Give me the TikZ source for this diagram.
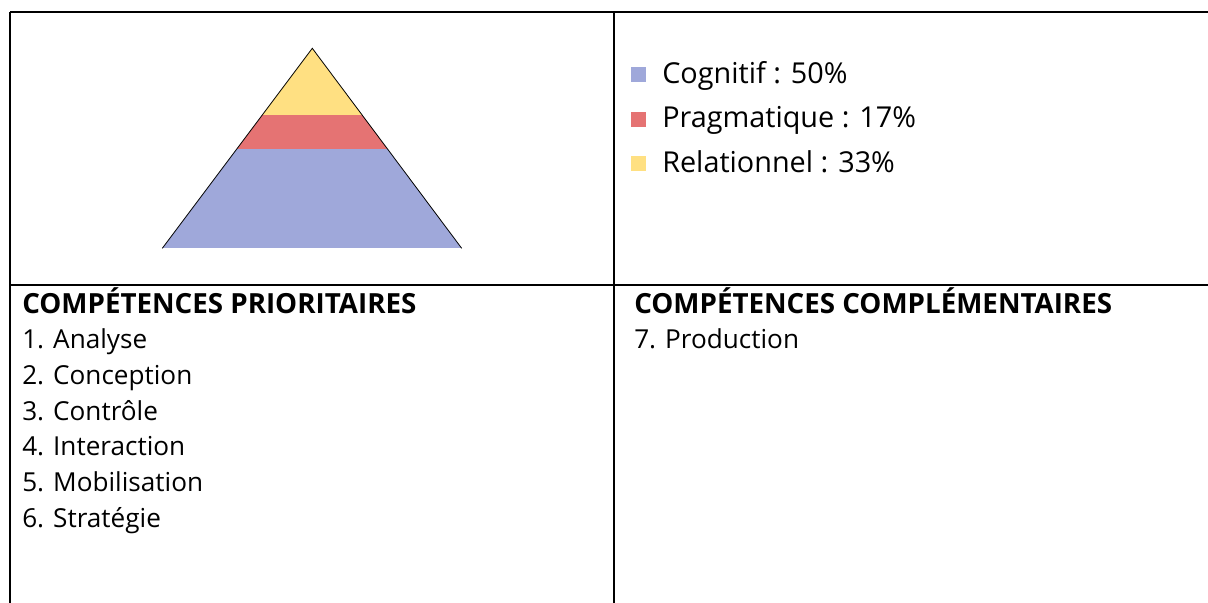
\documentclass[tikz,border=0pt]{standalone}
\usepackage{fontspec}
\setmainfont{Open Sans}
\definecolor{cogblue}{HTML}{9FA8DA}
\definecolor{pragred}{HTML}{E57373}
\definecolor{relyellow}{HTML}{FFE082}
\tikzset{
  rule/.style={line width=1.5pt},
  item/.style={anchor=base west,inner sep=0pt,font=\fontsize{19.6}{22}\selectfont},
  head/.style={item,font=\fontsize{20.8}{23}\selectfont\bfseries},
  keytext/.style={anchor=base west,inner sep=0pt,font=\fontsize{21.6}{24}\selectfont},
  keybox/.style={draw=none,minimum size=11.25pt,inner sep=0pt}
}
\begin{document}
\begin{tikzpicture}[x=0.75pt,y=-0.75pt]
\useasboundingbox (0,0) rectangle (1208,603);
% table rules
\draw[rule]
      (  10, 12  ) -- (1208, 12  )
      (  10, 12  ) -- (  10,603  )
      ( 614, 12  ) -- ( 614,603  )
      (  10,284.5) -- (1208,284.5);

% pyramid
\begin{scope}
\clip (162.3,248.3) -- (312.3,48.3) -- (461.7,248.3) -- cycle;
\fill[relyellow] (150, 40  ) rectangle (470,115  );
\fill[pragred]   (150,115  ) rectangle (470,149.3);
\fill[cogblue]   (150,149.3) rectangle (470,248.3);
\end{scope}
\draw[line width=0.6pt]
    (162.3,248.3) -- (312.3,48.3) -- (461.7,248.3);

% legend
\path
      ( 638.5, 74.5) node [keybox,fill=cogblue]   (keycog)  {}
    ++(   0  , 44.5) node [keybox,fill=pragred]   (keyprag) {}
    ++(   0  , 44.5) node [keybox,fill=relyellow] (keyrel)  {};
\path
    (keycog  -| 662,0) ++(0,8.5) node [keytext] (txtcog)  {Cognitif : 50\%}
    (keyprag -| 662,0) ++(0,8.5) node [keytext] (txtprag) {Pragmatique : 17\%}
    (keyrel  -| 662,0) ++(0,8.5) node [keytext] (txtrel)  {Relationnel : 33\%};

% skills
\path
      (  22,313  ) node [head] (prio)     {COMPÉTENCES PRIORITAIRES}
    ++(   0, 35.5) node [item] (analyse)  {1. Analyse}
    ++(   0, 35.8) node [item] (concept)  {2. Conception}
    ++(   0, 35.8) node [item] (controle) {3. Contrôle}
    ++(   0, 35.8) node [item] (interact) {4. Interaction}
    ++(   0, 35.8) node [item] (mobil)    {5. Mobilisation}
    ++(   0, 35.8) node [item] (strat)    {6. Stratégie};
\path
      ( 634,313  ) node [head] (compl)    {COMPÉTENCES COMPLÉMENTAIRES}
    ++(   0, 35.5) node [item] (prod)     {7. Production};
\end{tikzpicture}
\end{document}
